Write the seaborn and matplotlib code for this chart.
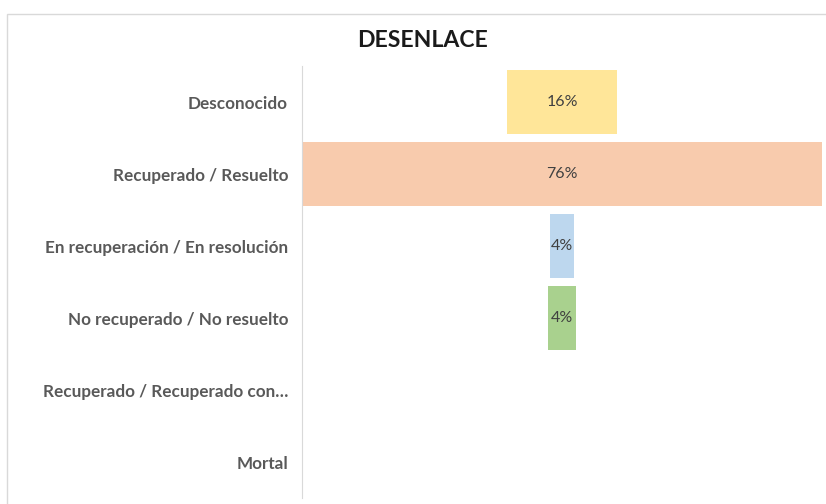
import matplotlib
matplotlib.use("Agg")
import matplotlib.pyplot as plt
import seaborn as sns
import pandas as pd
from matplotlib.patches import Rectangle

# Data
categories = ['Desconocido', 'Recuperado / Resuelto', 'En recuperación / En resolución',
              'No recuperado / No resuelto', 'Recuperado / Recuperado con…', 'Mortal']
values = [16.0, 76.0, 3.6, 4.2, 0, 0]
bar_colors = ['#FFE699', '#F8CBAD', '#BDD7EE', '#A9D18E', '#FFD966', '#F4B183']

df = pd.DataFrame({'categoria': categories, 'valor': values})

sns.set_style('white')
plt.rcParams['font.family'] = ['Lato', 'DejaVu Sans']

fig = plt.figure(figsize=(8.26, 5.04), dpi=100)
ax = fig.add_axes([0.3656, 0.0119, 0.6295, 0.857])

sns.barplot(data=df, x='valor', y='categoria', hue='categoria', palette=bar_colors,
            legend=False, width=0.9, saturation=1, ax=ax)

# Center each bar (funnel layout)
vmax = max(values)
for container, v in zip(ax.containers, values):
    for patch in container:
        patch.set_x((vmax - v) / 2)
        patch.set_edgecolor('none')
    if v > 0:
        ax.bar_label(container, labels=[f'{v:.0f}%'], label_type='center',
                     color='#404040', fontsize=11.5)

ax.set_xlim(0, vmax)
ax.set_xticks([])
ax.set_xlabel('')
ax.set_ylabel('')
ax.tick_params(axis='y', length=0, pad=10)
for lbl in ax.get_yticklabels():
    lbl.set_fontweight('bold')
    lbl.set_color('#595959')
    lbl.set_fontsize(12.3)

for side in ['top', 'right', 'bottom']:
    ax.spines[side].set_visible(False)
ax.spines['left'].set_color('#D9D9D9')

# Title
fig.text(0.512, 0.919, 'DESENLACE', ha='center', va='center',
         fontsize=16.6, fontweight='bold', color='#1a1a1a')

# Chart frame
fig.patches.append(Rectangle((0.0085, -0.1), 1.2, 1.072, transform=fig.transFigure,
                             fill=False, edgecolor='#D9D9D9', linewidth=1))

fig.savefig('out.png', dpi=100)
